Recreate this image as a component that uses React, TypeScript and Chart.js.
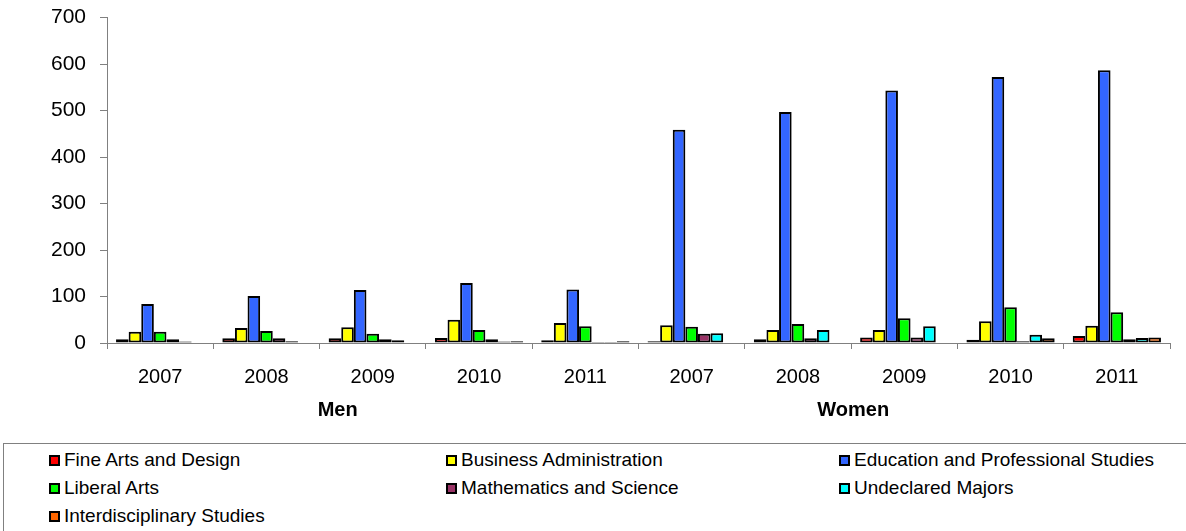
import React, { useEffect, useRef } from "react";
import { Chart, registerables } from "chart.js";

Chart.register(...registerables);

const years = ["2007", "2008", "2009", "2010", "2011", "2007", "2008", "2009", "2010", "2011"];
const groups = ["Men", "Women"];

const seriesNames = [
  "Fine Arts and Design",
  "Business Administration",
  "Education and Professional Studies",
  "Liberal Arts",
  "Mathematics and Science",
  "Undeclared Majors",
  "Interdisciplinary Studies",
];
const seriesColors = ["#FF0000", "#FFFF00", "#3366FF", "#00FF00", "#993366", "#00FFFF", "#FF6600"];

const fineArts = [8, 10, 10, 11, 6, 4, 8, 12, 7, 15];
const businessAdmin = [24, 32, 34, 50, 43, 38, 28, 28, 47, 37];
const education = [84, 101, 114, 129, 115, 459, 497, 543, 572, 587];
const liberalArts = [24, 26, 20, 28, 36, 35, 41, 53, 77, 66];
const mathScience = [8, 10, 8, 8, 2, 20, 10, 12, 4, 8];
const undeclared = [3, 4, 6, 3, 2, 21, 28, 36, 18, 11];
const interdisciplinary = [0, 0, 0, 4, 4, 0, 0, 0, 10, 12];

const seriesValues = [fineArts, businessAdmin, education, liberalArts, mathScience, undeclared, interdisciplinary];

const FONT = "'Liberation Sans', Arial, sans-serif";
const CANVAS_TOP = -9;

const groupLabelPlugin = {
  id: "groupLabels",
  afterDraw(chart: any) {
    const x = chart.scales.x;
    const ctx = chart.ctx;
    ctx.save();
    ctx.font = `bold 20px ${FONT}`;
    ctx.fillStyle = "#000";
    ctx.textAlign = "center";
    ctx.textBaseline = "middle";
    const positions = [1.67, 6.52];
    groups.forEach((g, i) => {
      ctx.fillText(g, x.getPixelForValue(positions[i]), x.bottom - 30);
    });
    ctx.restore();
  },
};

export default function App() {
  const canvasRef = useRef<HTMLCanvasElement | null>(null);

  useEffect(() => {
    if (!canvasRef.current) return;
    Chart.defaults.font.family = FONT;
    Chart.defaults.color = "#000";
    const chart = new Chart(canvasRef.current, {
      type: "bar",
      data: {
        labels: years,
        datasets: seriesNames.map((name, i) => ({
          label: name,
          data: seriesValues[i],
          backgroundColor: seriesColors[i],
          borderColor: "#000",
          borderWidth: 2,
          borderSkipped: false,
          categoryPercentage: 0.83,
          barPercentage: 1.0,
        })),
      },
      options: {
        animation: false,
        responsive: false,
        maintainAspectRatio: false,
        layout: { padding: { top: 5, right: 16, left: 0, bottom: 0 } },
        plugins: {
          legend: { display: false },
          tooltip: { enabled: false },
        },
        scales: {
          x: {
            grid: {
              offset: true,
              drawOnChartArea: false,
              drawTicks: true,
              tickLength: 6,
              color: "#808080",
            },
            border: { color: "#808080", width: 1 },
            ticks: { font: { size: 20 }, padding: 16, color: "#000", maxRotation: 0 },
            afterFit: (scale: any) => {
              scale.height = 97;
            },
          },
          y: {
            min: 0,
            max: 700,
            ticks: { stepSize: 100, font: { size: 21 }, padding: 14, color: "#000" },
            grid: {
              drawOnChartArea: false,
              drawTicks: true,
              tickLength: 7,
              color: "#808080",
            },
            border: { color: "#808080", width: 1 },
            afterFit: (scale: any) => {
              scale.width = 107;
            },
          },
        },
      },
      plugins: [groupLabelPlugin],
    });
    return () => chart.destroy();
  }, []);

  const colX = [49, 446, 839];
  const rowY = [460, 488, 516];

  return (
    <div style={{ position: "absolute", left: 0, top: 0, width: 1186, height: 531, overflow: "hidden", background: "#fff", fontFamily: FONT }}>
      <canvas
        ref={canvasRef}
        width={1186}
        height={449}
        style={{ position: "absolute", left: 0, top: CANVAS_TOP, width: 1186, height: 449 }}
      />
      <div
        style={{
          position: "absolute",
          left: 3,
          top: 443,
          width: 1190,
          height: 120,
          border: "1px solid #808080",
          boxSizing: "border-box",
        }}
      />
      {seriesNames.map((name, i) => {
        const col = i % 3;
        const row = Math.floor(i / 3);
        return (
          <div
            key={name}
            style={{
              position: "absolute",
              left: colX[col],
              top: rowY[row] - 12,
              height: 24,
              display: "flex",
              alignItems: "center",
              fontSize: 19,
              color: "#000",
              whiteSpace: "nowrap",
            }}
          >
            <span
              style={{
                display: "inline-block",
                width: 11,
                height: 11,
                background: seriesColors[i],
                border: "2px solid #000",
                boxSizing: "border-box",
                marginRight: 4,
              }}
            />
            {name}
          </div>
        );
      })}
    </div>
  );
}
